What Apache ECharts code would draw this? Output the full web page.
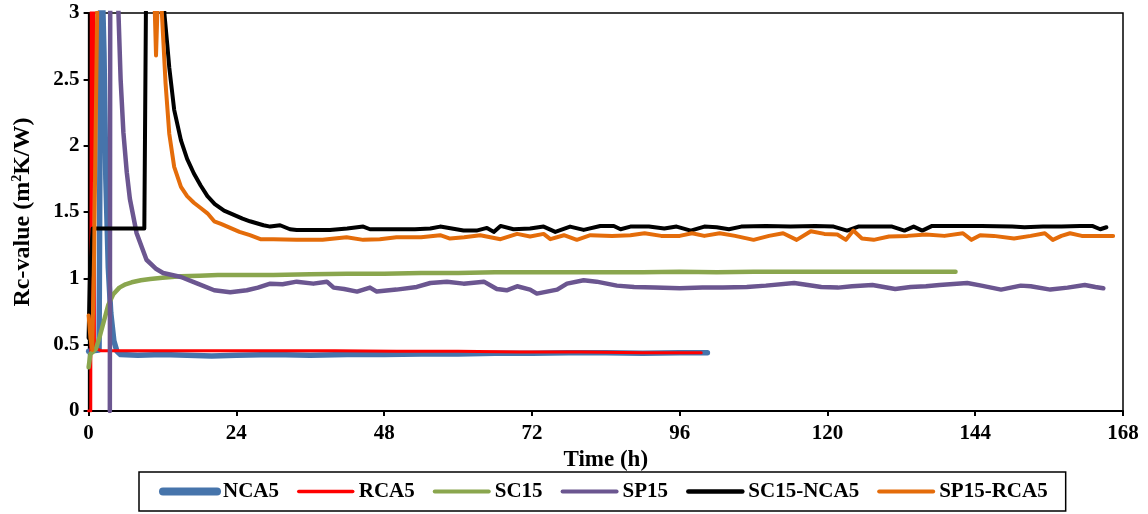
<!DOCTYPE html>
<html>
<head>
<meta charset="utf-8">
<script src="https://cdn.jsdelivr.net/npm/echarts/dist/echarts.min.js"></script>
<style>
html,body{margin:0;padding:0;background:#fff;}
#chart{width:1148px;height:514px;}
</style>
</head>
<body>
<div id="chart"></div>
<script>
// ---- data (time in hours, Rc-value in m2K/W) ----
var xTicks = [0, 24, 48, 72, 96, 120, 144, 168];
var yTicks = [0, 0.5, 1, 1.5, 2, 2.5, 3];
var seriesNames = ['NCA5', 'RCA5', 'SC15', 'SP15', 'SC15-NCA5', 'SP15-RCA5'];

var NCA5 = [[0,0.45],[1.7,0.46],[2.0,3.6],[2.3,3.6],[2.5,2.7],[2.8,1.75],[3.2,1.08],[3.6,0.74],[4.1,0.53],[4.6,0.45],[5.2,0.425],[8,0.42],[12,0.425],[16,0.42],[20,0.415],[24,0.42],[30,0.425],[36,0.42],[42,0.425],[48,0.425],[54,0.43],[60,0.43],[66,0.435],[72,0.435],[78,0.44],[84,0.44],[90,0.435],[96,0.44],[100.5,0.44]];

var RCA5 = [[0,0],[0.35,0],[0.45,3.6],[0.8,3.6],[0.95,0.47],[1.5,0.465],[2,0.455],[6,0.455],[12,0.455],[20,0.455],[30,0.455],[40,0.455],[50,0.45],[60,0.45],[70,0.445],[80,0.445],[90,0.44],[99.5,0.44]];

var SC15 = [[0,0.33],[0.3,0.43],[0.8,0.45],[1.2,0.47],[1.8,0.56],[2.5,0.68],[3.2,0.8],[4,0.88],[5,0.93],[6,0.955],[7,0.97],[8.5,0.985],[10,0.995],[12,1.005],[15,1.015],[18,1.02],[21,1.025],[24,1.025],[30,1.025],[36,1.03],[42,1.035],[48,1.035],[54,1.04],[60,1.04],[66,1.045],[72,1.045],[78,1.045],[84,1.045],[90,1.045],[96,1.05],[102,1.045],[108,1.05],[114,1.05],[120,1.05],[126,1.05],[132,1.05],[138,1.05],[140.8,1.05]];

var SP15 = [[3.45,0],[3.55,5],[4.6,3.4],[4.85,3.0],[5.2,2.5],[5.65,2.1],[6.2,1.8],[6.7,1.6],[7.8,1.34],[9.4,1.14],[11,1.07],[12.1,1.04],[15,1.01],[17.7,0.96],[20.4,0.91],[23,0.895],[25.7,0.91],[27.5,0.93],[29.5,0.96],[31.5,0.955],[33.8,0.975],[36.5,0.96],[38.7,0.975],[39.8,0.93],[41.5,0.92],[43.6,0.9],[45.7,0.93],[46.8,0.9],[50,0.915],[53.3,0.935],[55.5,0.965],[58.2,0.975],[60.9,0.96],[64.2,0.975],[66.3,0.92],[67.9,0.91],[69.6,0.94],[71.7,0.915],[72.8,0.885],[76.1,0.915],[77.7,0.96],[80.4,0.985],[82.5,0.975],[85.8,0.945],[88.6,0.935],[92,0.93],[96,0.925],[99.7,0.93],[103,0.93],[106.9,0.935],[110,0.945],[114.6,0.965],[119,0.935],[121.7,0.93],[124,0.94],[127.3,0.95],[131,0.92],[133.5,0.935],[136,0.94],[138.2,0.95],[142.7,0.965],[145,0.945],[148.2,0.915],[151.4,0.945],[153,0.94],[156.2,0.915],[159,0.93],[161.8,0.95],[163.5,0.935],[164.8,0.925]];

var SC15_NCA5 = [[0,0.55],[0.2,1.0],[0.65,1.375],[9.05,1.375],[9.4,3.6],[12.0,3.6],[12.3,3.0],[12.8,2.75],[13.1,2.59],[13.9,2.27],[15,2.04],[16,1.9],[17.1,1.79],[18.2,1.7],[19.3,1.62],[20.5,1.56],[22,1.51],[23.5,1.48],[25,1.45],[26.2,1.43],[28.4,1.4],[29.5,1.39],[31.1,1.4],[32.7,1.37],[33.8,1.365],[36,1.365],[39.2,1.365],[42,1.375],[44.6,1.39],[45.7,1.37],[50,1.37],[53,1.37],[55.5,1.375],[57.1,1.39],[60.9,1.36],[63,1.36],[64.7,1.38],[65.8,1.35],[66.9,1.395],[69,1.37],[71.7,1.375],[73.9,1.39],[75.8,1.35],[78.2,1.39],[80.4,1.365],[83.1,1.395],[85.3,1.395],[86.4,1.37],[88,1.39],[91,1.39],[93.5,1.375],[95.5,1.39],[97.8,1.36],[100,1.39],[102,1.385],[104,1.37],[106,1.39],[110,1.395],[114,1.39],[118,1.395],[121,1.39],[123.2,1.36],[125,1.39],[128,1.39],[130.5,1.39],[132.5,1.36],[134,1.39],[135.4,1.36],[137,1.395],[140,1.395],[145,1.395],[150,1.39],[152,1.385],[155,1.39],[158,1.39],[161,1.395],[163,1.395],[164.3,1.37],[165.3,1.385]];

var SP15_RCA5 = [[0,0.72],[0.3,0.55],[0.6,0.46],[0.9,1.2],[1.55,3.6],[10.4,3.6],[10.95,2.68],[11.5,3.5],[11.9,3.0],[12.5,2.47],[13.1,2.09],[13.9,1.84],[15,1.69],[16,1.62],[17.1,1.57],[18.2,1.53],[19.3,1.49],[20.4,1.43],[21.5,1.41],[23,1.38],[24.5,1.35],[26.2,1.325],[27.9,1.295],[30,1.295],[33.8,1.29],[38,1.29],[41.9,1.31],[44.6,1.29],[47.3,1.295],[50,1.31],[54,1.31],[57.1,1.325],[58.7,1.3],[61,1.31],[63.6,1.325],[66.9,1.295],[69.6,1.335],[71.7,1.315],[73.9,1.335],[75,1.295],[77.2,1.325],[79.3,1.29],[81.5,1.325],[85,1.32],[88,1.325],[90.3,1.34],[93,1.32],[96,1.32],[98,1.34],[100,1.32],[102.5,1.34],[105,1.32],[108,1.29],[110.5,1.32],[112.8,1.34],[115,1.29],[117.3,1.355],[119.5,1.335],[121.6,1.33],[123,1.29],[124.2,1.36],[125.6,1.3],[127.5,1.29],[130,1.315],[133,1.32],[136,1.33],[139,1.32],[142,1.34],[143.4,1.29],[144.8,1.325],[147,1.32],[150.3,1.3],[153,1.32],[155.3,1.34],[156.6,1.29],[158,1.32],[159.4,1.34],[161.3,1.32],[163,1.32],[166.4,1.32]];

// ---- styling ----
var FONT = '"Liberation Serif","Times New Roman",serif';
var colors = ['#4674AB', '#FF0000', '#8AA64E', '#6B5690', '#000000', '#E46C0A'];
var widths = [5.5, 3, 4.5, 4.5, 4, 4];
var legendWidths = [8, 3.5, 4, 4, 4.5, 4];
var dataList = [NCA5, RCA5, SC15, SP15, SC15_NCA5, SP15_RCA5];

var series = seriesNames.map(function (name, i) {
  return {
    name: name,
    type: 'line',
    data: dataList[i],
    showSymbol: false,
    symbol: 'none',
    clip: true,
    smooth: false,
    lineStyle: { color: colors[i], width: widths[i], cap: 'round', join: 'round' },
    itemStyle: { color: colors[i] },
    emphasis: { disabled: true },
    z: 2 + i
  };
});

var chart = echarts.init(document.getElementById('chart'), null, { renderer: 'canvas' });
chart.setOption({
  animation: false,
  backgroundColor: '#ffffff',
  grid: {
    left: 88.6, right: 25, top: 13, bottom: 103,
    show: true, borderColor: '#000', borderWidth: 1.5, backgroundColor: 'transparent'
  },
  legend: {
    data: seriesNames.map(function (n, i) {
      return {
        name: n,
        itemStyle: { opacity: 0, borderWidth: 0 },
        lineStyle: { width: legendWidths[i], color: colors[i], cap: 'round' }
      };
    }),
    left: 139, top: 472,
    padding: [9, 18, 9, 20],
    itemGap: 18,
    itemWidth: 54,
    itemHeight: 14,
    borderColor: '#000',
    borderWidth: 1.5,
    borderRadius: 0,
    textStyle: { fontFamily: FONT, fontWeight: 'bold', fontSize: 21, color: '#000', padding: [0, 0, 0, 1] }
  },
  xAxis: {
    type: 'value',
    min: xTicks[0], max: xTicks[xTicks.length - 1], interval: 24,
    name: 'Time (h)', nameLocation: 'middle', nameGap: 32,
    nameTextStyle: { fontFamily: FONT, fontWeight: 'bold', fontSize: 23, color: '#000' },
    axisLine: { show: true, onZero: false, lineStyle: { color: '#000', width: 2 } },
    axisTick: { show: true, inside: false, length: 5, lineStyle: { color: '#000', width: 2 } },
    axisLabel: { margin: 12, fontFamily: FONT, fontWeight: 'bold', fontSize: 21, color: '#000',
      formatter: function (v) { return xTicks.indexOf(v) >= 0 ? String(v) : ''; } },
    splitLine: { show: false }
  },
  yAxis: {
    type: 'value',
    min: yTicks[0], max: yTicks[yTicks.length - 1], interval: 0.5,
    name: '{a|Rc-value (m}{s|2}{a|K/W)}', nameLocation: 'middle', nameGap: 54, nameRotate: 90,
    nameTextStyle: {
      fontFamily: FONT, fontWeight: 'bold', fontSize: 24, color: '#000',
      rich: {
        a: { fontFamily: FONT, fontWeight: 'bold', fontSize: 24, color: '#000' },
        s: { fontFamily: FONT, fontWeight: 'bold', fontSize: 14, color: '#000', verticalAlign: 'top', padding: [0, 0, 8, 0] }
      }
    },
    axisLine: { show: true, onZero: false, lineStyle: { color: '#000', width: 2 } },
    axisTick: { show: true, inside: false, length: 5, lineStyle: { color: '#000', width: 2 } },
    axisLabel: { margin: 9, fontFamily: FONT, fontWeight: 'bold', fontSize: 21, color: '#000' },
    splitLine: { show: false }
  },
  series: series
});
</script>
</body>
</html>
